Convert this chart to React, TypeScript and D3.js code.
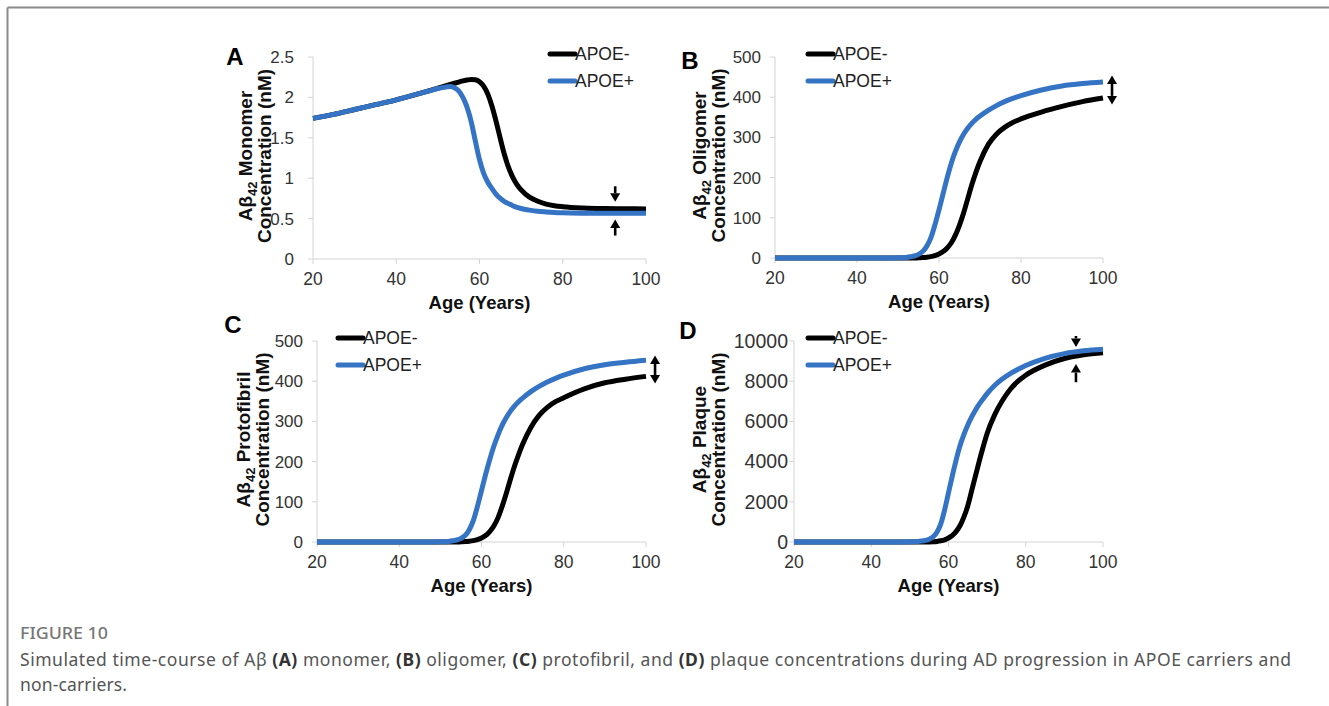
import React from "react";
import * as d3 from "d3";

// sampled ages (years)
const AGES = [20, 25, 30, 35, 40, 45, 48, 50, 52, 53, 54, 55, 56, 57, 58, 59, 60, 61, 62, 63, 64, 65, 66, 67, 68, 69, 70, 72, 74, 76, 78, 80, 85, 90, 95, 100];

const MONOMER_NEG = [1.74, 1.79, 1.85, 1.91, 1.97, 2.04, 2.085, 2.115, 2.145, 2.16, 2.175, 2.19, 2.205, 2.215, 2.222, 2.218, 2.195, 2.14, 2.04, 1.89, 1.7, 1.49, 1.29, 1.13, 1.01, 0.92, 0.855, 0.765, 0.715, 0.68, 0.66, 0.648, 0.632, 0.625, 0.622, 0.62];
const MONOMER_POS = [1.74, 1.79, 1.85, 1.91, 1.97, 2.04, 2.08, 2.11, 2.13, 2.135, 2.12, 2.08, 2.0, 1.88, 1.7, 1.46, 1.23, 1.06, 0.95, 0.87, 0.8, 0.75, 0.71, 0.685, 0.66, 0.64, 0.625, 0.605, 0.59, 0.582, 0.576, 0.572, 0.567, 0.565, 0.565, 0.565];

const OLIGOMER_NEG = [0, 0, 0, 0, 0, 0, 0, 0, 0, 0, 0, 0.5, 1, 2, 3.5, 6, 10, 16, 25, 38, 57, 82, 112, 147, 182, 213, 240, 282, 308, 325, 337, 346, 363, 377, 389, 398];
const OLIGOMER_POS = [0, 0, 0, 0, 0, 0, 0.2, 0.5, 1.5, 3, 5, 9, 16, 29, 50, 82, 120, 160, 200, 236, 265, 289, 308, 323, 335, 345, 353, 367, 379, 389, 397, 404, 418, 428, 434, 438];

const PROTOFIBRIL_NEG = [0, 0, 0, 0, 0, 0, 0, 0, 0, 0, 0, 0.5, 1, 2, 3.5, 6, 10, 16, 26, 40, 60, 88, 120, 155, 188, 217, 243, 285, 315, 335, 349, 359, 381, 396, 405, 412];
const PROTOFIBRIL_POS = [0, 0, 0, 0, 0, 0, 0.2, 0.5, 1.5, 3, 5, 9, 16, 30, 53, 88, 128, 168, 205, 238, 266, 290, 309, 325, 338, 349, 358, 374, 387, 398, 407, 415, 431, 441, 447, 452];

const PLAQUE_NEG = [0, 0, 0, 0, 0, 0, 0, 0, 0, 0, 0, 5, 15, 30, 60, 110, 200, 330, 530, 820, 1250, 1800, 2550, 3300, 4050, 4750, 5400, 6350, 7050, 7600, 8000, 8300, 8800, 9130, 9320, 9420];
const PLAQUE_POS = [0, 0, 0, 0, 0, 0, 5, 10, 25, 45, 80, 140, 250, 480, 900, 1600, 2450, 3300, 4100, 4800, 5350, 5820, 6220, 6570, 6870, 7130, 7380, 7800, 8120, 8380, 8590, 8780, 9140, 9370, 9510, 9590];

const SERIES_NAMES = ["APOE-", "APOE+"];
const SERIES_COLORS = ["#000000", "#3574c4"];
const X_TICKS = [20, 40, 60, 80, 100];

// arrow annotations in data units: [age, from, to, double?]
const ARROWS_A: [number, number, number, boolean][] = [
  [92.6, 0.9, 0.71, false],
  [92.6, 0.29, 0.49, false],
];
const ARROWS_B: [number, number, number, boolean][] = [[102.2, 454, 382, true]];
const ARROWS_C: [number, number, number, boolean][] = [[102.2, 464, 394, true]];
const ARROWS_D: [number, number, number, boolean][] = [
  [93, 10250, 9700, false],
  [93, 7950, 8850, false],
];

const FONT = "'Liberation Sans', Arial, sans-serif";

type PanelDef = {
  letter: string;
  name: string;
  neg: number[];
  pos: number[];
  yMax: number;
  yTicks: number[];
  arrows: [number, number, number, boolean][];
  left: number;
  right: number;
  top: number;
  bottom: number;
  legendX: number;
  letterX: number;
  letterY: number;
  titleX: number;
  tickGap: number;
  yTickSize: number;
};

const PANELS: PanelDef[] = [
  { letter: "A", name: "Monomer", neg: MONOMER_NEG, pos: MONOMER_POS, yMax: 2.5, yTicks: [0, 0.5, 1, 1.5, 2, 2.5], arrows: ARROWS_A,
    left: 313, right: 646, top: 57, bottom: 259, legendX: 550, letterX: 235, letterY: 57, titleX: 245, tickGap: 19, yTickSize: 17 },
  { letter: "B", name: "Oligomer", neg: OLIGOMER_NEG, pos: OLIGOMER_POS, yMax: 500, yTicks: [0, 100, 200, 300, 400, 500], arrows: ARROWS_B,
    left: 775, right: 1103, top: 57, bottom: 258, legendX: 808, letterX: 690, letterY: 61, titleX: 699, tickGap: 14, yTickSize: 17 },
  { letter: "C", name: "Protofibril", neg: PROTOFIBRIL_NEG, pos: PROTOFIBRIL_POS, yMax: 500, yTicks: [0, 100, 200, 300, 400, 500], arrows: ARROWS_C,
    left: 317, right: 646, top: 341, bottom: 542, legendX: 338, letterX: 233, letterY: 325, titleX: 243, tickGap: 14, yTickSize: 17 },
  { letter: "D", name: "Plaque", neg: PLAQUE_NEG, pos: PLAQUE_POS, yMax: 10000, yTicks: [0, 2000, 4000, 6000, 8000, 10000], arrows: ARROWS_D,
    left: 794, right: 1103, top: 341, bottom: 542, legendX: 808, letterX: 688, letterY: 331, titleX: 699, tickGap: 6, yTickSize: 19.5 },
];

const Arrow = ({ x, y1, y2, double }: { x: number; y1: number; y2: number; double: boolean }) => {
  const dir = y2 > y1 ? 1 : -1;
  const head = 8.5;
  const hw = 5;
  const shaftStart = double ? y1 + dir * head : y1;
  return (
    <g>
      <line x1={x} x2={x} y1={shaftStart} y2={y2 - dir * head} stroke="#000" strokeWidth={2.6} />
      <path d={`M${x - hw},${y2 - dir * head}L${x + hw},${y2 - dir * head}L${x},${y2}Z`} fill="#000" />
      {double && <path d={`M${x - hw},${y1 + dir * head}L${x + hw},${y1 + dir * head}L${x},${y1}Z`} fill="#000" />}
    </g>
  );
};

const Panel = ({ p }: { p: PanelDef }) => {
  const x = d3.scaleLinear().domain([20, 100]).range([p.left, p.right]);
  const y = d3.scaleLinear().domain([0, p.yMax]).range([p.bottom, p.top]);
  const line = d3
    .line<number>()
    .x((_, i) => x(AGES[i]))
    .y((d) => y(d))
    .curve(d3.curveMonotoneX);
  const midY = (p.top + p.bottom) / 2;
  const axisColor = "#d4d4d4";

  return (
    <g fontFamily={FONT}>
      {/* axes */}
      <line x1={p.left} x2={p.right} y1={p.bottom} y2={p.bottom} stroke={axisColor} />
      <line x1={p.left} x2={p.left} y1={p.top} y2={p.bottom} stroke={axisColor} />
      {X_TICKS.map((t) => (
        <g key={"x" + t}>
          <line x1={x(t)} x2={x(t)} y1={p.bottom} y2={p.bottom + 5} stroke={axisColor} />
          <text x={x(t)} y={p.bottom + 26} textAnchor="middle" fontSize={17.5} fill="#333">
            {t}
          </text>
        </g>
      ))}
      {p.yTicks.map((t) => (
        <g key={"y" + t}>
          <line x1={p.left - 5} x2={p.left} y1={y(t)} y2={y(t)} stroke={axisColor} />
          <text x={p.left - p.tickGap} y={y(t)} dy="0.35em" textAnchor="end" fontSize={p.yTickSize} fill="#333">
            {t}
          </text>
        </g>
      ))}
      <text x={(p.left + p.right) / 2} y={p.bottom + 50} textAnchor="middle" fontSize={18.5} fontWeight="bold" fill="#111">
        Age (Years)
      </text>
      <text transform={`translate(${p.titleX + 6.5},${midY - 2}) rotate(-90)`} textAnchor="middle" fontSize={19} fontWeight="bold" fill="#111">
        Aβ<tspan dy={5} fontSize={13}>42</tspan>
        <tspan dy={-5}> {p.name}</tspan>
      </text>
      <text transform={`translate(${p.titleX + 25.5},${midY - 2}) rotate(-90)`} textAnchor="middle" fontSize={19} fontWeight="bold" fill="#111">
        Concentration (nM)
      </text>
      <text x={p.letterX} y={p.letterY} dy="0.35em" textAnchor="middle" fontSize={24} fontWeight="bold" fill="#000">
        {p.letter}
      </text>

      {/* series */}
      {[p.neg, p.pos].map((vals, i) => (
        <path key={i} d={line(vals) || ""} fill="none" stroke={SERIES_COLORS[i]} strokeWidth={5} strokeLinejoin="round" />
      ))}

      {/* legend */}
      {SERIES_NAMES.map((n, i) => (
        <g key={n}>
          <line x1={p.legendX} x2={p.legendX + 25} y1={p.top - 3 + i * 27} y2={p.top - 3 + i * 27} stroke={SERIES_COLORS[i]} strokeWidth={5} strokeLinecap="round" />
          <text x={p.legendX + 25} y={p.top - 3 + i * 27} dy="0.35em" fontSize={17.5} fill="#222">
            {n}
          </text>
        </g>
      ))}

      {p.arrows.map((a, i) => (
        <Arrow key={i} x={x(a[0])} y1={y(a[1])} y2={y(a[2])} double={a[3]} />
      ))}
    </g>
  );
};

export default function App() {
  return (
    <svg width={1329} height={706} style={{ position: "absolute", left: 0, top: 0, background: "#fff" }}>
      <rect width={1329} height={706} fill="#fff" />
      <line x1={7.5} x2={1329} y1={7.5} y2={7.5} stroke="#8a8a8a" strokeWidth={2} />
      <line x1={7.5} x2={7.5} y1={7.5} y2={706} stroke="#8a8a8a" strokeWidth={2} />
      {PANELS.map((p) => (
        <Panel key={p.letter} p={p} />
      ))}
      <g fontFamily="'Noto Sans', 'Open Sans', sans-serif">
        <text x={20} y={639} fontSize={16} fontWeight={500} fill="#777" textLength={88} lengthAdjust="spacingAndGlyphs">
          FIGURE 10
        </text>
        <text x={20} y={666} fontSize={17.5} fill="#555" textLength={1271} lengthAdjust="spacing">
          Simulated time-course of Aβ <tspan fontWeight="bold" fill="#333">(A)</tspan> monomer, <tspan fontWeight="bold" fill="#333">(B)</tspan> oligomer,{" "}
          <tspan fontWeight="bold" fill="#333">(C)</tspan> protofibril, and <tspan fontWeight="bold" fill="#333">(D)</tspan> plaque concentrations during AD progression in APOE carriers and
        </text>
        <text x={20} y={691} fontSize={17.5} fill="#555" textLength={107} lengthAdjust="spacing">
          non-carriers.
        </text>
      </g>
    </svg>
  );
}
